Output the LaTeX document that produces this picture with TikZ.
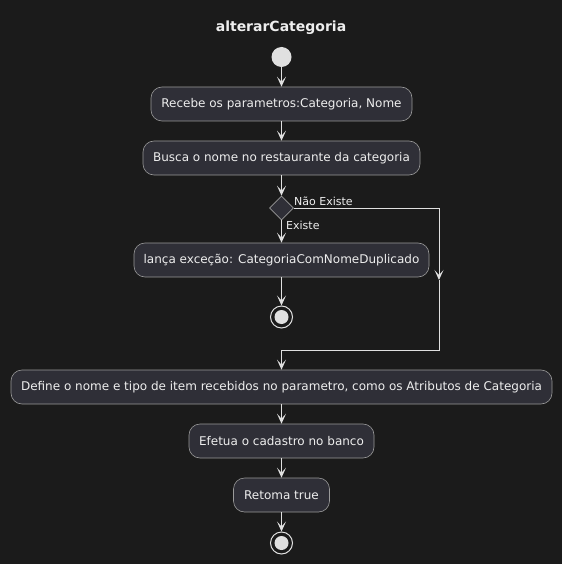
\documentclass[tikz,border=0pt]{standalone}
\usepackage{fontspec}
\setmainfont{DejaVu Sans}
\usetikzlibrary{arrows.meta,shapes.geometric}
\definecolor{bg}{HTML}{1B1B1B}
\definecolor{boxfill}{HTML}{2F2F37}
\definecolor{boxline}{HTML}{9A9A9A}
\definecolor{txt}{HTML}{EEEEEE}
\definecolor{flow}{HTML}{E0E0E0}
\tikzset{
  act/.style={draw=boxline, fill=boxfill, line width=0.6pt, rounded corners=11pt,
    minimum height=34pt, inner sep=0pt, text=txt, font=\fontsize{12}{14}\selectfont},
  flowline/.style={draw=flow, line width=1pt, -{Stealth[length=10pt,width=9pt,inset=5pt]}},
  plainline/.style={draw=flow, line width=1pt},
  lbl/.style={text=txt, font=\fontsize{11}{13}\selectfont, inner sep=0pt},
  startdot/.style={circle, fill=flow, draw=none, minimum size=20pt, inner sep=0pt},
  decision/.style={diamond, draw=boxline, fill=boxfill, line width=0.6pt, minimum width=24pt, minimum height=24pt, inner sep=0pt},
  stopring/.style={circle, draw=flow, line width=1pt, fill=bg, minimum size=22pt, inner sep=0pt},
  stopdot/.style={circle, fill=flow, minimum size=14pt, inner sep=0pt},
}
\begin{document}
\begin{tikzpicture}[x=1pt,y=-1pt]
\fill[bg] (0,0) rectangle (562,564);
\useasboundingbox (0,0) rectangle (562,564);
\node[text=txt, font=\bfseries\fontsize{14}{16}\selectfont] (title) at (281,28) {alterarCategoria};
\node[startdot] (start) at (281.5,57) {};
\node[act, minimum width=261pt] (b1) at (281.5,104) {Recebe os parametros:Categoria, Nome};
\node[act, minimum width=277pt] (b2) at (281.5,158) {Busca o nome no restaurante da categoria};
\node[decision] (d) at (281.5,208) {};
\node[act, minimum width=295pt] (b3) at (281.5,260) {lança exceção: CategoriaComNomeDuplicado};
\node[stopring] (s1) at (281.5,317) {};
\node[stopdot] (s1i) at (s1) {};
\node[act, minimum width=541pt] (b4) at (281.5,387) {Define o nome e tipo de item recebidos no parametro, como os Atributos de Categoria};
\node[act, minimum width=185pt] (b5) at (281.5,441) {Efetua o cadastro no banco};
\node[act, minimum width=96pt] (b6) at (281.5,495) {Retoma true};
\node[stopring] (s2) at (281.5,543) {};
\node[stopdot] (s2i) at (s2) {};
\coordinate (c1) at (439,208);
\coordinate (c2) at (439,280);
\coordinate (c3) at (439,350);
\coordinate (c4) at (281.5,350);
\draw[flowline] (start) -- (b1);
\draw[flowline] (b1) -- (b2);
\draw[flowline] (b2) -- (d);
\draw[flowline] (d) -- (b3);
\draw[flowline] (b3) -- (s1);
\draw[plainline] (d.east) -- (c1);
\draw[flowline] (c1) -- (c2);
\draw[plainline] (c2) -- (c3) -- (c4);
\draw[flowline] (c4) -- (b4);
\draw[flowline] (b4) -- (b5);
\draw[flowline] (b5) -- (b6);
\draw[flowline] (b6) -- (s2);
\node[lbl, anchor=west] (lno) at (294,201) {Não Existe};
\node[lbl, anchor=west] (lyes) at (286,225) {Existe};
\end{tikzpicture}
\end{document}
